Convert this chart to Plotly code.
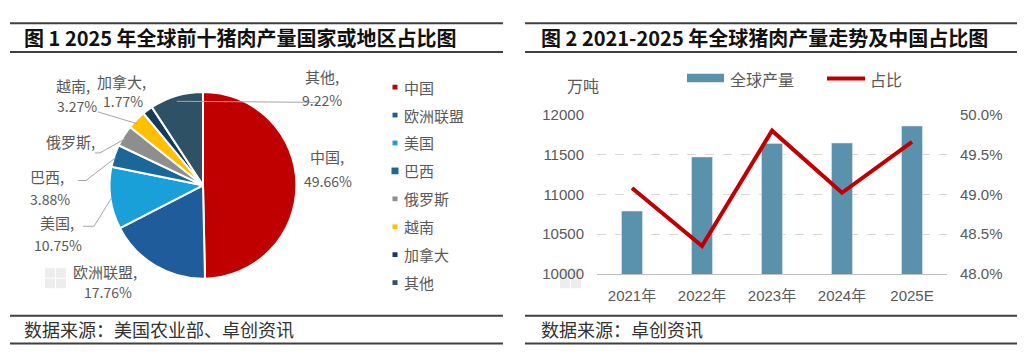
import math
import plotly.graph_objects as go

# ---------------- data ----------------
pie_categories = ["中国", "欧洲联盟", "美国", "巴西", "俄罗斯", "越南", "加拿大", "其他"]
pie_shares = [49.66, 17.76, 10.75, 3.88, 3.69, 3.27, 1.77, 9.22]
pie_value_text = ["49.66%", "17.76%", "10.75%", "3.88%", "", "3.27%", "1.77%", "9.22%"]
pie_colors = ["#C00000", "#1F5C9C", "#1AA0D8", "#1B6797", "#8E8E8E", "#FFC000", "#163A5C", "#2E5166"]

years = ["2021年", "2022年", "2023年", "2024年", "2025E"]
global_output = [10790, 11470, 11640, 11645, 11860]
china_share = [0.4908, 0.4835, 0.4980, 0.4902, 0.4966]
series_names = ["全球产量", "占比"]

title_left = "图 1 2025 年全球前十猪肉产量国家或地区占比图"
title_right = "图 2 2021-2025 年全球猪肉产量走势及中国占比图"
source_left = "数据来源：美国农业部、卓创资讯"
source_right = "数据来源：卓创资讯"

# ---------------- layout constants ----------------
W, H = 1024, 361
FONT = "Noto Sans CJK SC"
NUMFONT = "Liberation Sans, Noto Sans CJK SC"
GRAY = "#595959"


def px(x):
    return x / W


def py(y):
    return 1 - y / H


fig = go.Figure()

# pie (domain a little larger than the drawn radius, plotly pads the pie inside it)
PCX, PCY, PR = 203, 185, 92
PD = 98
fig.add_trace(go.Pie(
    labels=pie_categories, values=pie_shares, sort=False, direction="clockwise",
    rotation=0, textinfo="none", hoverinfo="label+percent",
    marker=dict(colors=pie_colors, line=dict(color="white", width=2)),
    domain=dict(x=[px(PCX - PD), px(PCX + PD)], y=[py(PCY + PD), py(PCY - PD)]),
    showlegend=False,
))

# bars + line
fig.add_trace(go.Bar(x=years, y=global_output, name=series_names[0], width=0.3,
                     marker=dict(color="#5A92AE"), xaxis="x", yaxis="y", showlegend=False))
fig.add_trace(go.Scatter(x=years, y=china_share, name=series_names[1], mode="lines",
                         line=dict(color="#C00000", width=4), xaxis="x", yaxis="y2",
                         showlegend=False))

annotations = []
shapes = []

# ---- header / footer rules and titles ----
for x0, x1 in [(10, 503), (525, 1017)]:
    for y in (15, 45, 322, 351):
        shapes.append(dict(type="line", xref="paper", yref="paper", x0=px(x0), x1=px(x1),
                           y0=py(y), y1=py(y), line=dict(color="#404040", width=2)))

for text, x in [(title_left, 22), (title_right, 539)]:
    annotations.append(dict(text=f"<b>{text}</b>", x=px(x), y=py(30), xref="paper", yref="paper",
                            xanchor="left", yanchor="middle", showarrow=False,
                            font=dict(family=FONT, size=20, color="#111111")))
for text, x in [(source_left, 22), (source_right, 539)]:
    annotations.append(dict(text=text, x=px(x), y=py(336), xref="paper", yref="paper",
                            xanchor="left", yanchor="middle", showarrow=False,
                            font=dict(family=FONT, size=18, color="#333333")))

# ---- faint watermark logos ----
for x in (45, 560):
    for dx, dy in [(0, 0), (11, 0), (0, 11), (11, 11)]:
        shapes.append(dict(type="rect", xref="paper", yref="paper",
                           x0=px(x + dx), x1=px(x + dx + 10), y0=py(272 + dy + 10), y1=py(272 + dy),
                           line=dict(width=0), fillcolor="#EDEDED", layer="below"))

# ---- pie data labels ----
name_pos = {"中国": (327, 155), "欧洲联盟": (105, 275), "美国": (57, 224), "巴西": (47, 176),
            "俄罗斯": (70, 139), "越南": (73, 80), "加拿大": (121, 76), "其他": (322, 71)}
value_pos = {"中国": (328, 180), "欧洲联盟": (108, 297), "美国": (58, 248), "巴西": (50, 199),
             "俄罗斯": (70, 160), "越南": (77, 102), "加拿大": (123, 97), "其他": (322, 96)}
# leader line: list of points from label side toward the slice
leader = {"其他": [(318, 98)], "美国": [(83, 228), (94, 228)], "巴西": [(78, 180), (86, 180)],
          "俄罗斯": [(95, 151), (100, 151)], "越南": [(98, 108)]}

cum = 0.0
total = sum(pie_shares)
for cat, val, vt in zip(pie_categories, pie_shares, pie_value_text):
    mid = (cum + val / 2) / total * 2 * math.pi
    cum += val
    ex, ey = PCX + PR * math.sin(mid), PCY - PR * math.cos(mid)
    nx, ny = name_pos[cat]
    annotations.append(dict(text=cat + ",", x=px(nx), y=py(ny), xref="paper", yref="paper",
                            xanchor="center", yanchor="middle", showarrow=False,
                            font=dict(family=FONT, size=15, color=GRAY)))
    if vt:
        vx, vy = value_pos[cat]
        annotations.append(dict(text=vt, x=px(vx), y=py(vy), xref="paper", yref="paper",
                                xanchor="center", yanchor="middle", showarrow=False,
                                font=dict(family=FONT, size=14, color=GRAY)))
    if cat in leader:
        pts = leader[cat] + [(ex, ey)]
        path = "M " + " L ".join(f"{px(a):.5f},{py(b):.5f}" for a, b in pts)
        shapes.append(dict(type="path", xref="paper", yref="paper", path=path,
                           line=dict(color="#A6A6A6", width=1)))

# ---- pie legend (manual) ----
for i, (cat, col) in enumerate(zip(pie_categories, pie_colors)):
    y = 82 + 29.3 * i
    s = 7 if cat == "巴西" else 5
    shapes.append(dict(type="rect", xref="paper", yref="paper",
                       x0=px(395 - s / 2), x1=px(395 + s / 2), y0=py(y + s / 2), y1=py(y - s / 2),
                       line=dict(width=0), fillcolor=col))
    annotations.append(dict(text=cat, x=px(402), y=py(y), xref="paper", yref="paper",
                            xanchor="left", yanchor="middle", showarrow=False,
                            font=dict(family=FONT, size=15, color=GRAY)))

# ---- right chart legend (manual) ----
shapes.append(dict(type="rect", xref="paper", yref="paper", x0=px(687), x1=px(724),
                   y0=py(77), y1=py(68), line=dict(width=0), fillcolor="#5A92AE"))
annotations.append(dict(text=series_names[0], x=px(728), y=py(73), xref="paper", yref="paper",
                        xanchor="left", yanchor="middle", showarrow=False,
                        font=dict(family=FONT, size=16, color=GRAY)))
shapes.append(dict(type="line", xref="paper", yref="paper", x0=px(827), x1=px(865),
                   y0=py(73), y1=py(73), line=dict(color="#C00000", width=4)))
annotations.append(dict(text=series_names[1], x=px(868), y=py(73), xref="paper", yref="paper",
                        xanchor="left", yanchor="middle", showarrow=False,
                        font=dict(family=FONT, size=16, color=GRAY)))
annotations.append(dict(text="万吨", x=px(583), y=py(80), xref="paper", yref="paper",
                        xanchor="center", yanchor="middle", showarrow=False,
                        font=dict(family=FONT, size=16, color=GRAY)))

fig.update_layout(
    width=W, height=H, margin=dict(l=0, r=0, t=0, b=0),
    paper_bgcolor="white", plot_bgcolor="white",
    showlegend=False, bargap=0.7,
    font=dict(family=FONT, color=GRAY),
    xaxis=dict(domain=[px(597), px(947)], anchor="y", showline=True, linecolor="#BFBFBF",
               linewidth=1, ticks="", showgrid=False, ticklabelstandoff=8,
               tickfont=dict(family=NUMFONT, size=15, color=GRAY), fixedrange=True),
    yaxis=dict(domain=[py(278), py(111)], anchor="x", range=[10000, 12000], dtick=500,
               tickformat="d",
               showgrid=True, gridcolor="#D9D9D9", griddash="dash", zeroline=False,
               showline=False, ticks="", ticklabelstandoff=12,
               tickfont=dict(family=NUMFONT, size=15, color=GRAY)),
    yaxis2=dict(overlaying="y", anchor="x", side="right", range=[0.48, 0.50], dtick=0.005,
                tickformat=".1%", showgrid=False, zeroline=False, showline=False, ticks="",
                ticklabelstandoff=12, tickfont=dict(family=NUMFONT, size=15, color=GRAY)),
    annotations=annotations, shapes=shapes,
)

fig.write_html(
    "out.html",
    config={"displayModeBar": False},
    post_script="document.body.style.margin='0';document.body.style.overflow='hidden';",
)
